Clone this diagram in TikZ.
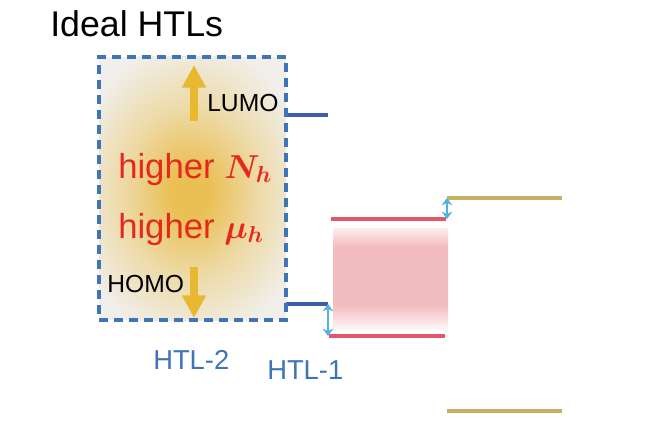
\documentclass[tikz,border=0pt]{standalone}
\usepackage{xcolor}
\usepackage{fontspec}
\setmainfont{Liberation Sans}
\usetikzlibrary{arrows.meta, positioning, fit}
\definecolor{boxblue}{RGB}{62,116,184}
\definecolor{levelblue}{RGB}{64,92,176}
\definecolor{levelred}{RGB}{224,86,106}
\definecolor{levelgold}{RGB}{200,176,98}
\definecolor{gapcyan}{RGB}{80,180,226}
\definecolor{arrowgold}{RGB}{232,184,48}
\definecolor{textred}{RGB}{230,40,28}
\definecolor{glowmid}{RGB}{234,192,84}
\definecolor{glowout}{RGB}{240,239,235}
\definecolor{bandpink}{RGB}{243,188,192}
\pgfdeclareradialshading{htlglow}{\pgfpoint{0bp}{0bp}}{color(0bp)=(glowmid); color(4bp)=(glowmid); color(14bp)=(glowmid!45!glowout); color(25bp)=(glowout); color(50bp)=(glowout)}
\pgfdeclareverticalshading{bandfade}{100bp}{color(0bp)=(white); color(25bp)=(bandpink!8!white); color(37bp)=(bandpink); color(66bp)=(bandpink); color(75bp)=(bandpink!25!white); color(100bp)=(bandpink!25!white)}
\begin{document}
\begin{tikzpicture}[
    x=0.75pt, y=-0.75pt,
    htlbox/.style={draw=boxblue, line width=2.4pt, dash pattern=on 7pt off 4.25pt, inner sep=0pt},
    level/.style={line width=2.5pt},
    gaparrow/.style={{Stealth[length=5.5pt,width=8pt]}-{Stealth[length=5.5pt,width=8pt]}, gapcyan, line width=1.4pt},
    shiftarrow/.style={-{Triangle[length=17pt,width=17pt]}, arrowgold, line width=6pt},
    orbital/.style={font=\fontsize{18.5pt}{20pt}\selectfont, inner sep=0pt, anchor=base west},
    higher/.style={font=\fontsize{26pt}{28pt}\selectfont, text=textred, inner sep=0pt, anchor=base west},
    htlname/.style={font=\fontsize{20.5pt}{22pt}\selectfont, text=boxblue, inner sep=0pt, anchor=base west}
]
    \useasboundingbox (0,0) rectangle (652,424);
    \fill[white] (0,0) rectangle (652,424);

    % Corners and level ends
    \coordinate (boxtl) at (99,57);
    \coordinate (boxbr) at (286,320);
    \coordinate (l2a) at (286,115);
    \coordinate (l2b) at (328,115);
    \coordinate (h2a) at (286,304);
    \coordinate (h2b) at (328,304);
    \coordinate (l1a) at (331,219);
    \coordinate (l1b) at (446,219);
    \coordinate (h1a) at (329,336);
    \coordinate (h1b) at (445,336);
    \coordinate (l0a) at (447,198);
    \coordinate (l0b) at (562,198);
    \coordinate (h0a) at (447,411);
    \coordinate (h0b) at (562,411);
    \coordinate (ubot) at (194,121);
    \coordinate (utop) at (194,65);
    \coordinate (dtop) at (194,267);
    \coordinate (dbot) at (194,318);

    % Glow and band
    \fill[glowout] (boxtl) rectangle (boxbr);
    \begin{scope}
        \clip (boxtl) rectangle (boxbr);
        \shade[shading=htlglow] (190,192) ellipse (122 and 150);
    \end{scope}
    \shade[shading=bandfade] (333,228) rectangle (448,330);

    % Levels
    \draw[level, levelblue] (l2a) -- (l2b);
    \draw[level, levelblue] (h2a) -- (h2b);
    \draw[level, levelred] (l1a) -- (l1b);
    \draw[level, levelred] (h1a) -- (h1b);
    \draw[level, levelgold] (l0a) -- (l0b);
    \draw[level, levelgold] (h0a) -- (h0b);

    % Box
    \node[htlbox, fit=(boxtl)(boxbr)] (ideal) {};

    % Arrows
    \draw[shiftarrow] (ubot) -- (utop);
    \draw[shiftarrow] (dtop) -- (dbot);
    \draw[gaparrow] (l0a) -- (l0a |- l1b);
    \draw[gaparrow] (h2b) -- (h2b |- h1a);

    % Labels
    \node[font=\fontsize{26.8pt}{28pt}\selectfont, inner sep=0pt, anchor=base west] (title) at (50,37) {Ideal HTLs};
    \node[orbital] (lumo) at (207,112) {LUMO};
    \node[orbital] (homo) at (107,292) {HOMO};
    \node[higher] (nh) at (118,178) {higher \textcolor{textred}{\boldmath$N_h$}};
    \node[higher] (muh) at (118,238) {higher \textcolor{textred}{\boldmath$\mu_h$}};
    \node[htlname] (htl2) at (153,369) {HTL-2};
    \node[htlname] (htl1) at (267,379) {HTL-1};
\end{tikzpicture}
\end{document}
